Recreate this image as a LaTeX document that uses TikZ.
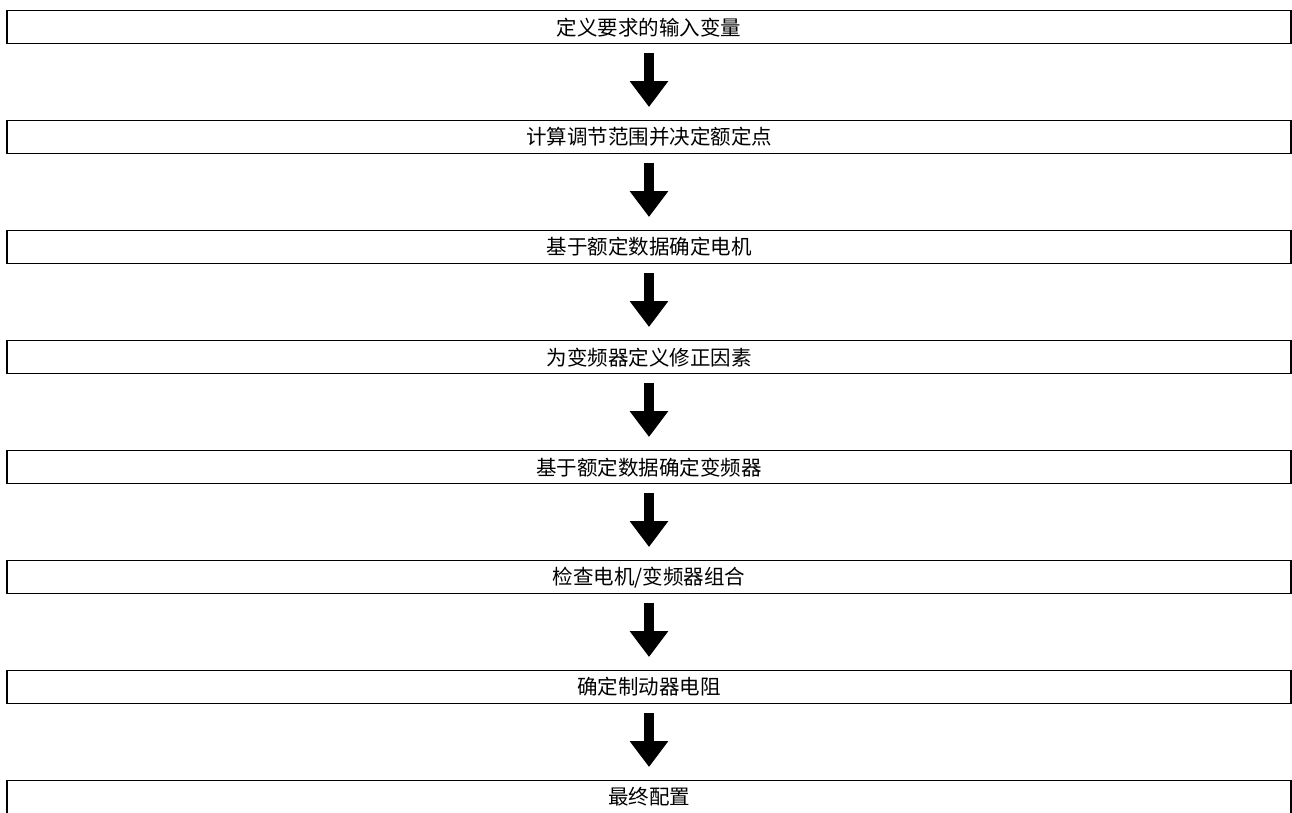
\documentclass[tikz,border=0pt]{standalone}
\usepackage{fontspec}
\newfontfamily\cjk{Noto Sans CJK SC}
\usetikzlibrary{arrows.meta}
\begin{document}
\begin{tikzpicture}[x=1pt,y=1pt,
  stepbox/.style={draw=black, line width=1.3pt, fill=white, minimum width=1284pt, minimum height=33pt, inner sep=0pt, anchor=north, font=\cjk\fontsize{20.5}{21}\selectfont},
  flowarrow/.style={line width=10pt, -{Triangle[width=37pt,length=26pt]}, shorten <=9pt, shorten >=13pt}]
\clip (0,0) rectangle (1292,-812);
\fill[white] (0,0) rectangle (1292,-812);
\node[stepbox] (s1) at (649,-10) {定义要求的输入变量};
\node[stepbox] (s2) at (649,-120) {计算调节范围并决定额定点};
\node[stepbox] (s3) at (649,-230) {基于额定数据确定电机};
\node[stepbox] (s4) at (649,-340) {为变频器定义修正因素};
\node[stepbox] (s5) at (649,-450) {基于额定数据确定变频器};
\node[stepbox] (s6) at (649,-560) {检查电机/变频器组合};
\node[stepbox] (s7) at (649,-670) {确定制动器电阻};
\node[stepbox] (s8) at (649,-780) {最终配置};
\foreach \a/\b in {s1/s2,s2/s3,s3/s4,s4/s5,s5/s6,s6/s7,s7/s8}
  \draw[flowarrow] (\a.south) -- (\b.north);
\end{tikzpicture}
\end{document}
